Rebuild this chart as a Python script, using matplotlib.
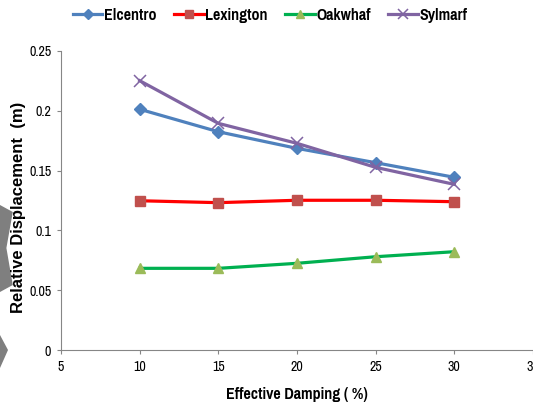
import numpy as np
import matplotlib.pyplot as plt
from matplotlib.patches import Polygon

# data
damping = [10, 15, 20, 25, 30]
elcentro = [0.2013, 0.1825, 0.1686, 0.1566, 0.1444]
lexington = [0.1248, 0.1232, 0.1252, 0.1252, 0.1240]
oakwhaf = [0.0683, 0.0683, 0.0725, 0.0780, 0.0822]
sylmarf = [0.2252, 0.1895, 0.1728, 0.1527, 0.1385]

x_ticks = [5, 10, 15, 20, 25, 30, 35]
y_ticks = [0, 0.05, 0.1, 0.15, 0.2, 0.25]
y_tick_labels = ["0", "0.05", "0.1", "0.15", "0.2", "0.25"]

narrow = ["Pragati Narrow", "Archivo Narrow", "DejaVu Sans"]
plt.rcParams["font.family"] = ["Liberation Sans", "DejaVu Sans"]

fig = plt.figure(figsize=(5.33, 4.07), dpi=100)
ax = fig.add_axes([0.1144, 0.140, 0.8856, 0.7347])

ax.plot(damping, elcentro, color="#4F81BD", lw=2.3, marker="D", ms=6.5,
        mfc="#4F81BD", mec="#4F81BD", label="Elcentro", zorder=4)
ax.plot(damping, lexington, color="#FF0000", lw=2.3, marker="s", ms=7,
        mfc="#C0504D", mec="#C0504D", label="Lexington", zorder=3)
ax.plot(damping, oakwhaf, color="#00B050", lw=2.3, marker="^", ms=7.5,
        mfc="#9BBB59", mec="#9BBB59", label="Oakwhaf", zorder=3)
ax.plot(damping, sylmarf, color="#8064A2", lw=2.3, marker="x", ms=8, mew=1.1,
        mec="#8064A2", label="Sylmarf", zorder=5)

ax.set_xlim(5, 35)
ax.set_ylim(0, 0.25)
ax.set_xticks(x_ticks)
ax.set_yticks(y_ticks)
ax.set_yticklabels(y_tick_labels)
for lab in ax.get_xticklabels() + ax.get_yticklabels():
    lab.set_family(narrow)
    lab.set_fontsize(11)

ax.spines["top"].set_visible(False)
ax.spines["right"].set_visible(False)
ax.spines["left"].set_color("#868686")
ax.spines["bottom"].set_color("#868686")
ax.tick_params(axis="both", direction="out", length=3, color="#868686", pad=4)

fig.text(0.557, 1 - 395 / 407, "Effective Damping ( %)", fontsize=12.5,
         fontweight="bold", family=narrow, ha="center", va="center")
fig.text(0.034, 0.49, "Relative Displacement  (m)", rotation=90, fontsize=12,
         fontweight="bold", ha="center", va="center")

leg = fig.legend(loc="center", bbox_to_anchor=(0.507, 0.963), ncol=4, frameon=False,
                 handlelength=1.7, handletextpad=0.1, columnspacing=1.0,
                 markerscale=0.85,
                 prop={"family": narrow, "weight": "bold", "size": 12.5})

# grey slide decoration cut off at the left edge
fig.patches.append(Polygon([(0, 1 - 205 / 407), (0.024, 1 - 212 / 407),
                            (0.012, 1 - 248 / 407), (0.024, 1 - 285 / 407),
                            (0, 1 - 292 / 407)],
                           closed=True, transform=fig.transFigure,
                           facecolor="#7F7F7F", edgecolor="none"))
fig.patches.append(Polygon([(0, 1 - 335 / 407), (0.015, 1 - 350 / 407),
                            (0, 1 - 368 / 407)],
                           closed=True, transform=fig.transFigure,
                           facecolor="#7F7F7F", edgecolor="none"))

fig.savefig("out.png", dpi=100)
